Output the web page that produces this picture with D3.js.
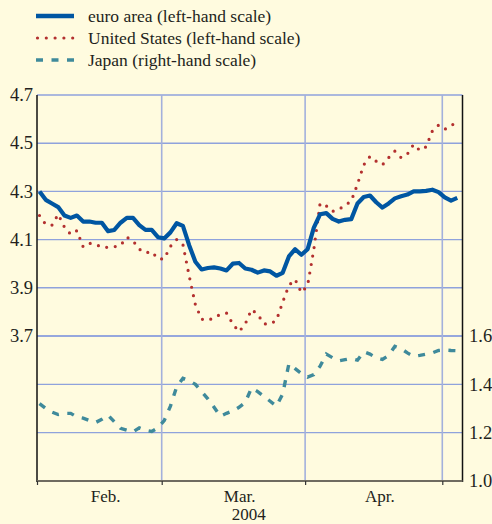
<!DOCTYPE html>
<html>
<head>
<meta charset="utf-8">
<script src="https://cdn.jsdelivr.net/npm/d3@7"></script>
<style>
  body { margin: 0; background: #fffbdf; }
  svg { display: block; }
</style>
</head>
<body>
<div id="chart"></div>
<script>
// daily observations, business-day index 0 = 2 Feb 2004
const euroArea = [
  4.30, 4.265, 4.25, 4.235, 4.20, 4.19, 4.20, 4.175, 4.175, 4.17,
  4.17, 4.135, 4.14, 4.17, 4.19, 4.19, 4.16, 4.14, 4.14, 4.11,
  4.105, 4.13, 4.168, 4.157, 4.077, 4.008, 3.976, 3.982, 3.985, 3.98,
  3.972, 4.00, 4.003, 3.98, 3.975, 3.963, 3.972, 3.968, 3.95, 3.962,
  4.03, 4.06, 4.037, 4.06, 4.15, 4.205, 4.21, 4.186, 4.175, 4.182,
  4.185, 4.25, 4.277, 4.283, 4.255, 4.233, 4.25, 4.271, 4.28, 4.287,
  4.30, 4.30, 4.302, 4.307, 4.297, 4.275, 4.262, 4.273
]
const unitedStates = [
  4.20, 4.163, 4.16, 4.205, 4.152, 4.122, 4.137, 4.07, 4.085, 4.08,
  4.068, 4.068, 4.07, 4.076, 4.11, 4.095, 4.06, 4.045, 4.05, 4.02,
  4.02, 4.072, 4.10, 4.08, 3.95, 3.83, 3.77, 3.765, 3.775, 3.79,
  3.795, 3.75, 3.718, 3.75, 3.81, 3.79, 3.75, 3.75, 3.765, 3.84,
  3.91, 3.935, 3.88, 3.91, 4.06, 4.25, 4.24, 4.217, 4.225, 4.242,
  4.26, 4.33, 4.41, 4.445, 4.425, 4.41, 4.44, 4.467, 4.44, 4.455,
  4.495, 4.47, 4.485, 4.55, 4.575, 4.558, 4.57, 4.595
]
const japan = [
  1.32, 1.30, 1.285, 1.275, 1.28, 1.28, 1.265, 1.26, 1.25, 1.242,
  1.255, 1.272, 1.245, 1.218, 1.21, 1.203, 1.22, 1.21, 1.205, 1.22,
  1.25, 1.31, 1.39, 1.425, 1.415, 1.40, 1.37, 1.34, 1.305, 1.268,
  1.28, 1.29, 1.305, 1.325, 1.385, 1.37, 1.35, 1.33, 1.31, 1.36,
  1.485, 1.465, 1.445, 1.43, 1.44, 1.475, 1.525, 1.51, 1.497, 1.502,
  1.507, 1.50, 1.535, 1.525, 1.51, 1.503, 1.52, 1.557, 1.548, 1.53,
  1.516, 1.52, 1.525, 1.53, 1.54, 1.542, 1.54, 1.539
]

const months = ['Feb.', 'Mar.', 'Apr.']
const monthStarts = [0, 20, 43, 65] // Feb, Mar, Apr, May
const yearLabel = '2004'
const leftTicks = [3.7, 3.9, 4.1, 4.3, 4.5, 4.7]
const rightTicks = [1.0, 1.2, 1.4, 1.6]
const legendItems = [
  'euro area (left-hand scale)',
  'United States (left-hand scale)',
  'Japan (right-hand scale)'
]

const chart = () => {
  const width = 492
  const height = 524
  const plotLeft = 37
  const plotRight = 462.5
  const plotTop = 95
  const plotBottom = 481
  const font = 'Liberation Serif'

  const colors = { euro: '#0056a2', us: '#b3302f', japan: '#3f8a9b', grid: '#8fa2dc', text: '#231f20' }

  const svg = d3
    .select('#chart')
    .append('svg')
    .attr('width', width)
    .attr('height', height)
    .attr('font-family', font)

  svg.append('rect').attr('width', width).attr('height', height).attr('fill', '#fffbdf')

  // last observation sits a little past the May tick
  const x = d3.scaleLinear().domain([0, 68]).range([plotLeft, 461])
  const yLeft = d3.scaleLinear().domain([3.7, 4.7]).range([336, plotTop])
  const yRight = d3.scaleLinear().domain([1.0, 1.6]).range([plotBottom, 336])

  // horizontal grid
  const gridYs = leftTicks
    .map((d) => yLeft(d))
    .concat(rightTicks.filter((d) => d > 1.0).map((d) => yRight(d)))
  svg
    .append('g')
    .selectAll('line')
    .data(gridYs)
    .join('line')
    .attr('x1', plotLeft)
    .attr('x2', plotRight)
    .attr('y1', (d) => d)
    .attr('y2', (d) => d)
    .attr('stroke', colors.grid)
    .attr('stroke-width', 1.4)

  // vertical grid at month starts
  svg
    .append('g')
    .selectAll('line')
    .data(monthStarts.slice(1))
    .join('line')
    .attr('x1', (d) => x(d))
    .attr('x2', (d) => x(d))
    .attr('y1', plotTop)
    .attr('y2', plotBottom)
    .attr('stroke', '#a3b0dc')
    .attr('stroke-width', 1.6)

  // series
  const lineLeft = d3.line().x((d, i) => x(i + 0.4)).y((d) => yLeft(d))
  const lineRight = d3.line().x((d, i) => x(i + 0.4)).y((d) => yRight(d))

  svg
    .append('path')
    .datum(japan)
    .attr('d', lineRight)
    .attr('fill', 'none')
    .attr('stroke', colors.japan)
    .attr('stroke-width', 3.4)
    .attr('stroke-dasharray', '7,8.5')

  svg
    .append('path')
    .datum(unitedStates)
    .attr('d', lineLeft)
    .attr('fill', 'none')
    .attr('stroke', colors.us)
    .attr('stroke-width', 3.2)
    .attr('stroke-linecap', 'round')
    .attr('stroke-dasharray', '0,8.6')

  svg
    .append('path')
    .datum(euroArea)
    .attr('d', lineLeft)
    .attr('fill', 'none')
    .attr('stroke', colors.euro)
    .attr('stroke-width', 4.2)
    .attr('stroke-linejoin', 'round')

  // axes frame
  svg.append('line').attr('x1', plotLeft).attr('x2', plotLeft).attr('y1', plotTop).attr('y2', plotBottom + 1).attr('stroke', '#111').attr('stroke-width', 1.5)
  svg.append('line').attr('x1', plotRight).attr('x2', plotRight).attr('y1', plotTop).attr('y2', plotBottom + 1).attr('stroke', '#111').attr('stroke-width', 1.5)

  const xAxis = d3.axisBottom(x).tickValues(monthStarts).tickSize(4).tickFormat('')
  const gx = svg.append('g').attr('transform', `translate(0,${plotBottom})`).call(xAxis)
  gx.select('.domain').attr('d', `M${plotLeft},0H${plotRight}`).attr('stroke', '#6f6b60').attr('stroke-width', 2)
  gx.selectAll('.tick line').attr('stroke', '#333').attr('stroke-width', 1.2)

  // tick labels
  svg
    .append('g')
    .selectAll('text')
    .data(leftTicks)
    .join('text')
    .attr('x', 33)
    .attr('y', (d) => yLeft(d))
    .attr('dy', '0.34em')
    .attr('text-anchor', 'end')
    .attr('font-family', font)
    .attr('font-size', 18.5)
    .attr('fill', colors.text)
    .text((d) => d3.format('.1f')(d))

  svg
    .append('g')
    .selectAll('text')
    .data(rightTicks)
    .join('text')
    .attr('x', 469)
    .attr('y', (d) => yRight(d))
    .attr('dy', '0.34em')
    .attr('text-anchor', 'start')
    .attr('font-family', font)
    .attr('font-size', 18.5)
    .attr('fill', colors.text)
    .text((d) => d3.format('.1f')(d))

  svg
    .append('g')
    .selectAll('text')
    .data(months)
    .join('text')
    .attr('x', (d, i) => x((monthStarts[i] + monthStarts[i + 1]) / 2 + 1))
    .attr('y', 502)
    .attr('text-anchor', 'middle')
    .attr('font-family', font)
    .attr('font-size', 17)
    .attr('fill', colors.text)
    .text((d) => d)

  svg
    .append('text')
    .attr('x', (plotLeft + plotRight) / 2 - 1)
    .attr('y', 519.5)
    .attr('text-anchor', 'middle')
    .attr('font-family', font)
    .attr('font-size', 17)
    .attr('fill', colors.text)
    .text(yearLabel)

  // legend
  const legend = svg.append('g')
  const legendStyles = [
    { stroke: colors.euro, width: 4.5, dash: null, cap: 'butt' },
    { stroke: colors.us, width: 3.2, dash: '0,8.8', cap: 'round' },
    { stroke: colors.japan, width: 3.4, dash: '7,8.5', cap: 'butt' }
  ]
  legendItems.forEach((label, i) => {
    const cy = 16 + i * 22
    const s = legendStyles[i]
    legend
      .append('line')
      .attr('x1', i === 1 ? 37.5 : 36)
      .attr('x2', 74)
      .attr('y1', cy)
      .attr('y2', cy)
      .attr('stroke', s.stroke)
      .attr('stroke-width', s.width)
      .attr('stroke-linecap', s.cap)
      .attr('stroke-dasharray', s.dash)
    legend
      .append('text')
      .attr('x', 88)
      .attr('y', cy + 6)
      .attr('font-family', font)
      .attr('font-size', 17.5)
      .attr('fill', colors.text)
      .text(label)
  })
}

chart()
</script>
</body>
</html>
